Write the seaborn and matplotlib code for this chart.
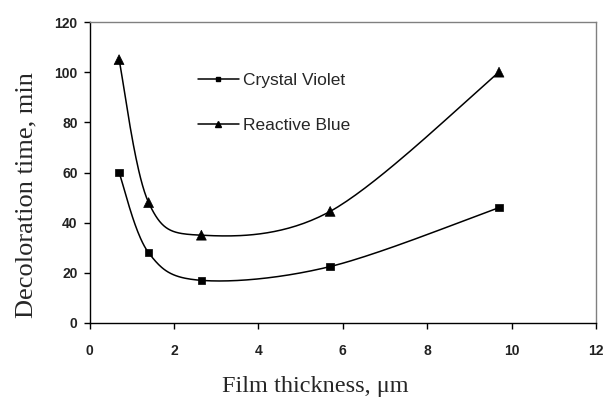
import numpy as np
import pandas as pd
import matplotlib
matplotlib.use("Agg")
import matplotlib.pyplot as plt
from matplotlib.lines import Line2D
import seaborn as sns

# Film thickness (um) and decoloration times (min)
thickness = [0.7, 1.4, 2.65, 5.7, 9.7]
crystal_violet = [60, 28, 17, 22.5, 46]
reactive_blue = [105, 48, 35, 44.5, 100]
series_names = ["Crystal Violet", "Reactive Blue"]
x_ticks = [0, 2, 4, 6, 8, 10, 12]
y_ticks = [0, 20, 40, 60, 80, 100, 120]


def smooth_curve(xs, ys, steps=40):
    """Catmull-Rom style Bezier smoothing through the given points."""
    p = np.column_stack([xs, ys]).astype(float)
    n = len(p)
    out = []
    for i in range(n - 1):
        p0 = p[i - 1] if i > 0 else p[i]
        p1 = p[i]
        p2 = p[i + 1]
        p3 = p[i + 2] if i + 2 < n else p[i + 1]
        c1 = p1 + (p2 - p0) / 6.0
        c2 = p2 - (p3 - p1) / 6.0
        t = np.linspace(0, 1, steps)[:, None]
        seg = ((1 - t) ** 3) * p1 + 3 * ((1 - t) ** 2) * t * c1 \
            + 3 * (1 - t) * t ** 2 * c2 + t ** 3 * p2
        out.append(seg if i == 0 else seg[1:])
    return np.vstack(out)


sns.set_style("ticks")
plt.rcParams["font.family"] = ["Liberation Sans", "DejaVu Sans"]
serif = ["Liberation Serif", "DejaVu Serif"]

points = pd.DataFrame({
    "thickness": thickness * 2,
    "time": crystal_violet + reactive_blue,
    "series": [series_names[0]] * len(thickness) + [series_names[1]] * len(thickness),
})

curves = []
for name, vals in zip(series_names, [crystal_violet, reactive_blue]):
    c = smooth_curve(thickness, vals)
    curves.append(pd.DataFrame({"thickness": c[:, 0], "time": c[:, 1],
                                "series": name}))
curves = pd.concat(curves, ignore_index=True)

fig = plt.figure(figsize=(6.06, 4.0), dpi=100)
ax = fig.add_axes([0.1477, 0.1925, 0.8360, 0.7525])

for name in series_names:
    sub = curves[curves["series"] == name]
    sns.lineplot(data=sub, x="thickness", y="time", sort=False, color="black",
                 linewidth=1.1, ax=ax, legend=False, estimator=None)

sns.scatterplot(data=points, x="thickness", y="time", style="series",
                markers={"Crystal Violet": "s", "Reactive Blue": "^"},
                size="series", sizes={"Crystal Violet": 28, "Reactive Blue": 50},
                color="black", edgecolor="black", linewidth=0.5,
                ax=ax, legend=False, zorder=3)

ax.set_xlim(0, 12)
ax.set_ylim(0, 120)
ax.set_xticks(x_ticks)
ax.set_yticks(y_ticks)
ax.tick_params(axis="both", direction="out", length=4, width=1, labelsize=10,
               color="black")
ax.tick_params(axis="x", pad=11)
ax.tick_params(axis="y", pad=4.5)
for lab in ax.get_xticklabels() + ax.get_yticklabels():
    lab.set_fontweight("bold")
    lab.set_color("#222222")

for side in ["left", "bottom"]:
    ax.spines[side].set_color("black")
    ax.spines[side].set_linewidth(1.0)
for side in ["top", "right"]:
    ax.spines[side].set_visible(True)
    ax.spines[side].set_color("#808080")
    ax.spines[side].set_linewidth(1.0)

ax.set_xlabel("Film thickness, \u03bcm", fontfamily=serif, fontsize=17.5,
              va="baseline")
ax.xaxis.set_label_coords((315 - 89.5) / 506.6, (323 - 392) / 301.0)
ax.set_ylabel("Decoloration time, min", fontfamily=serif, fontsize=19,
              va="center")
ax.yaxis.set_label_coords((26 - 89.5) / 506.6, (323 - 195) / 301.0)

handles = [
    Line2D([], [], color="black", linewidth=1.1, marker="s", markersize=3.5),
    Line2D([], [], color="black", linewidth=1.1, marker="^", markersize=5),
]
ax.legend(handles, series_names, loc="upper left", bbox_to_anchor=(0.2134, 0.832),
          frameon=False, fontsize=12.5, handlelength=2.4, handletextpad=0.2,
          labelspacing=1.73, borderpad=0, borderaxespad=0)

fig.savefig("out.png", dpi=100)
